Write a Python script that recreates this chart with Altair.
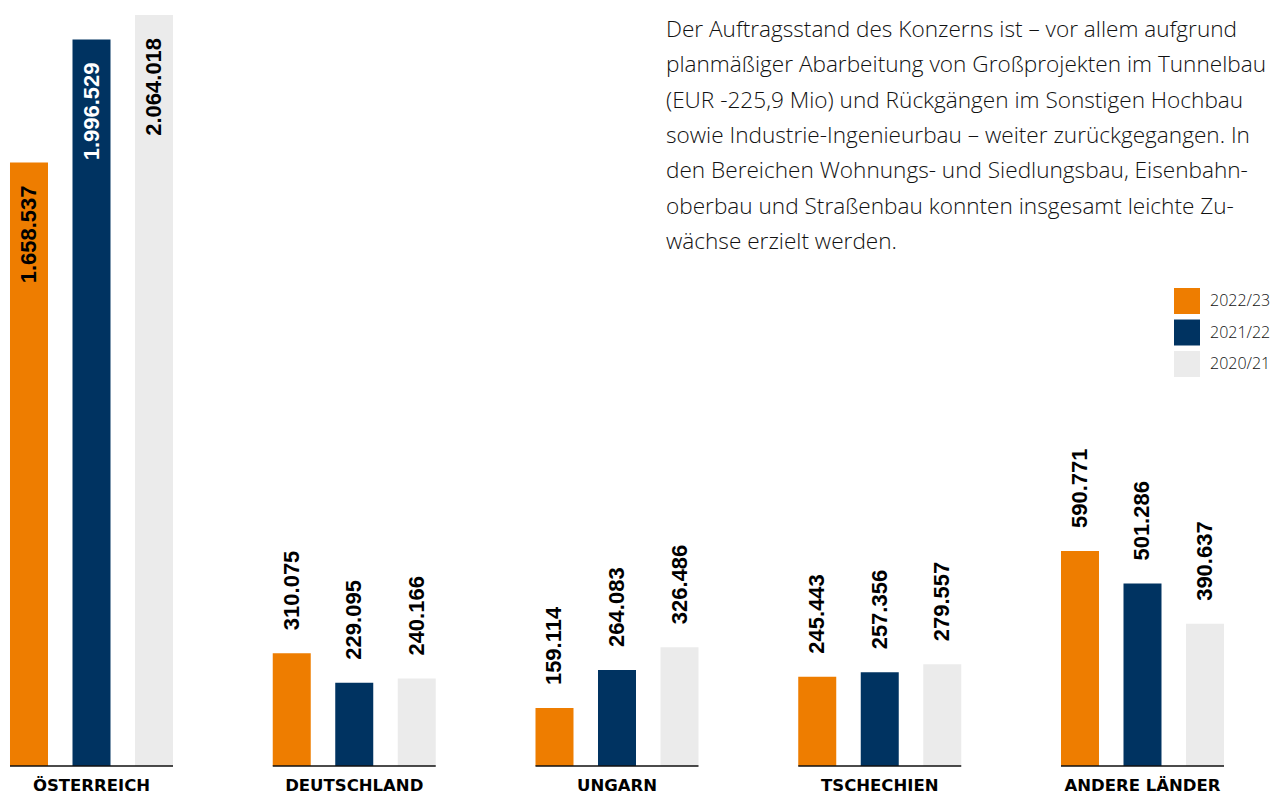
import altair as alt
import pandas as pd

# ---- data ----
countries = ["ÖSTERREICH", "DEUTSCHLAND", "UNGARN", "TSCHECHIEN", "ANDERE LÄNDER"]
series = ["2022/23", "2021/22", "2020/21"]
values_2022_23 = [1658537, 310075, 159114, 245443, 590771]
values_2021_22 = [1996529, 229095, 264083, 257356, 501286]
values_2020_21 = [2064018, 240166, 326486, 279557, 390637]
colors = ["#EE7D00", "#003361", "#EBEBEB"]
inside_countries = ["ÖSTERREICH"]

paragraph_lines = [
    "Der Auftragsstand des Konzerns ist – vor allem aufgrund",
    "planmäßiger Abarbeitung von Großprojekten im Tunnelbau",
    "(EUR -225,9 Mio) und Rückgängen im Sonstigen Hochbau",
    "sowie Industrie-Ingenieurbau – weiter zurückgegangen. In",
    "den Bereichen Wohnungs- und Siedlungsbau, Eisenbahn-",
    "oberbau und Straßenbau konnten insgesamt leichte Zu-",
    "wächse erzielt werden.",
]

rows = []
for s, vals in zip(series, [values_2022_23, values_2021_22, values_2020_21]):
    for c, v in zip(countries, vals):
        rows.append({
            "country": c,
            "series": s,
            "value": v,
            "label": f"{v:,}".replace(",", "."),
            "inside": 1 if c in inside_countries else 0,
        })
df = pd.DataFrame(rows)
df_c = pd.DataFrame({"country": countries, "zero": [0] * len(countries)})
df_p = pd.DataFrame({"text": ["\n".join(paragraph_lines)]})

FONT = "Liberation Sans"
TEXT_FONT = "Open Sans"
CAT_FONT = "DejaVu Sans"

x_enc = alt.X("country:N", sort=countries, axis=None,
              scale=alt.Scale(paddingInner=0.3796, paddingOuter=0.0076))
xoff_enc = alt.XOffset("series:N", sort=series,
                       scale=alt.Scale(paddingInner=0.392, paddingOuter=0))
y_enc = alt.Y("value:Q", axis=None, scale=alt.Scale(domain=[0, 2083000], nice=False))

bars = alt.Chart(df).mark_bar().encode(
    x=x_enc,
    xOffset=xoff_enc,
    y=y_enc,
    color=alt.Color(
        "series:N",
        sort=series,
        scale=alt.Scale(domain=series, range=colors),
        legend=alt.Legend(
            orient="none", legendX=1166, legendY=280, title=None,
            symbolType="square", symbolSize=676, symbolStrokeWidth=0,
            symbolOpacity=1, labelFontSize=16, labelFont=TEXT_FONT,
            labelFontWeight=300,
            labelColor="#111111", rowPadding=5.5, labelOffset=10, padding=0,
        ),
    ),
)

base = alt.Chart(df_c).mark_rect(fill="#111111", stroke="#111111", strokeWidth=1.5).encode(
    x=alt.X("country:N", sort=countries, axis=None),
    y=alt.Y("zero:Q", axis=None),
    y2="zero:Q",
)

labels_out = alt.Chart(df).transform_filter("datum.inside == 0").mark_text(
    angle=270, align="left", baseline="middle", dx=23,
    fontSize=22, fontWeight="bold", font=FONT, color="#000000",
).encode(x=x_enc, xOffset=xoff_enc, y=y_enc, text="label:N")

labels_in = alt.Chart(df).transform_filter("datum.inside == 1").mark_text(
    angle=270, align="right", baseline="middle", dx=-23,
    fontSize=22, fontWeight="bold", font=FONT,
).encode(
    x=x_enc, xOffset=xoff_enc, y=y_enc, text="label:N",
    color=alt.condition(alt.datum.series == "2021/22", alt.value("#ffffff"), alt.value("#000000")),
)

cat_labels = alt.Chart(df_c).mark_text(
    align="center", baseline="bottom", fontSize=16.5, fontWeight="bold",
    font=CAT_FONT, color="#000000",
).encode(
    x=alt.X("country:N", sort=countries, axis=None),
    y=alt.value(786),
    text="country:N",
)

para = alt.Chart(df_p).mark_text(
    align="left", baseline="alphabetic", lineBreak="\n", lineHeight=35.3,
    fontSize=22.6, fontWeight=300, font=TEXT_FONT, color="#111111",
).encode(x=alt.value(658), y=alt.value(29), text="text:N")

chart = alt.layer(bars, base, labels_out, labels_in, cat_labels, para).properties(
    width=1218,
    height=758,
    autosize=alt.AutoSizeParams(type="none"),
    padding={"left": 0, "top": 0, "right": 47, "bottom": 28},
).configure_view(stroke=None)

chart.save("out.html", embed_options={"renderer": "svg", "actions": False})
